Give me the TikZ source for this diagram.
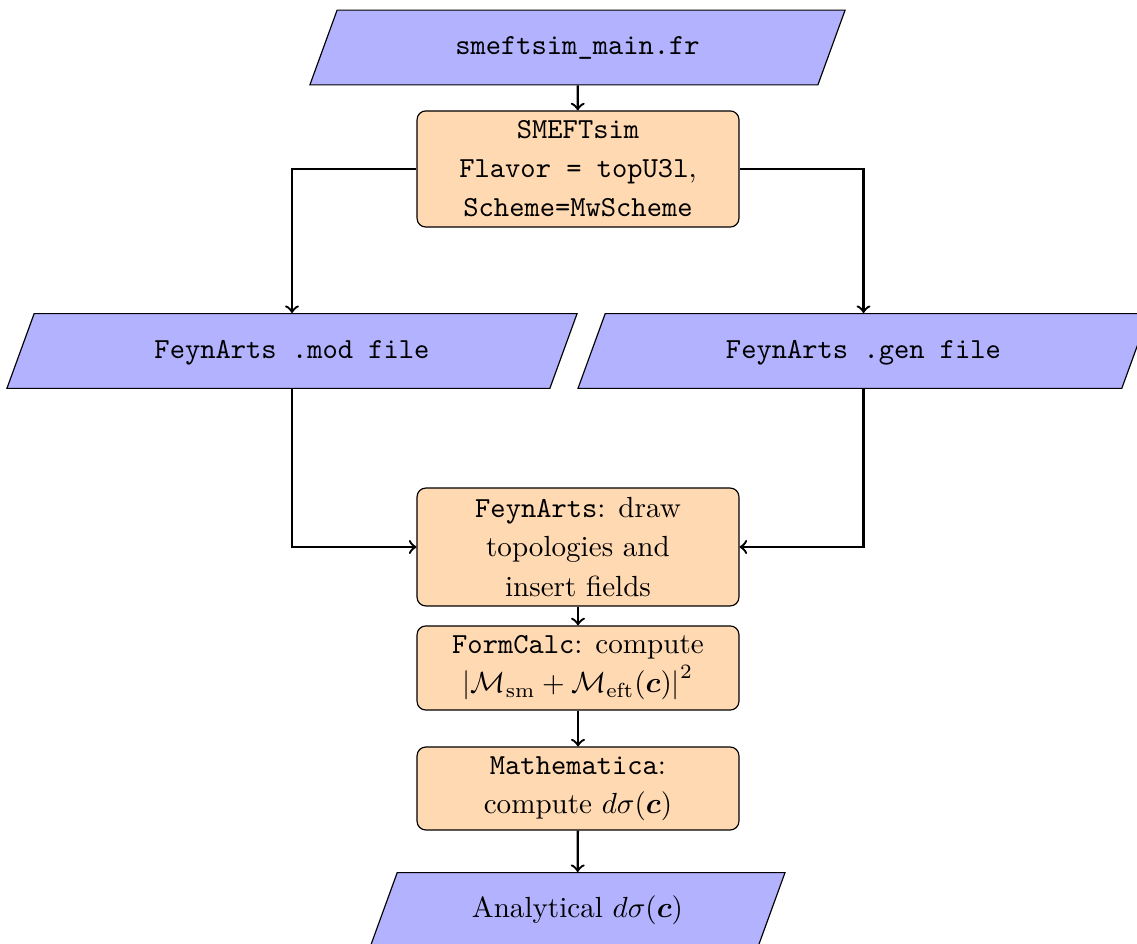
\documentclass[tikz,border=0pt]{standalone}
\usepackage{amsmath}
\usepackage{amssymb}
\usepackage{tikz}
\usetikzlibrary{shapes.geometric}

\tikzset{
  iofile/.style={trapezium, trapezium left angle=70, trapezium right angle=110,
    trapezium stretches body=true, draw, fill=blue!30,
    text height=7.5pt, text depth=2.5pt, inner ysep=7.85pt, inner xsep=2pt},
  procbox/.style={rectangle, rounded corners=3pt, draw, fill=orange!30,
    minimum width=110.6pt, align=center, inner sep=2pt,
    font=\linespread{1.12}\selectfont},
  flow/.style={->, thick},
}

\begin{document}
\begin{tikzpicture}[x=0.3436pt, y=-0.3436pt]
    \useasboundingbox (0,0) rectangle (1137,944);

    % input model
    \node[iofile, minimum width=183.9pt] (mainfr) at (577.5,47.5) {\texttt{smeftsim\_main.fr}};
    \node[procbox, minimum height=39.9pt] (smeft) at (578,169)
        {\texttt{SMEFTsim}\\ \texttt{Flavor = topU3l},\\ \texttt{Scheme=MwScheme}};

    % generated files
    \node[iofile, minimum width=195.9pt] (modfile) at (292,351) {\texttt{FeynArts .mod file}};
    \node[iofile, minimum width=196.2pt] (genfile) at (863.5,351) {\texttt{FeynArts .gen file}};

    % calculation chain
    \node[procbox, minimum height=40.5pt] (feynarts) at (578,547)
        {\texttt{FeynArts}: draw\\ topologies and\\ insert fields};
    \node[procbox, minimum height=28.9pt] (formcalc) at (578,668)
        {\texttt{FormCalc}: compute\\ $\left|\mathcal{M}_{\mathrm{sm}} + \mathcal{M}_{\mathrm{eft}}(\boldsymbol{c})\right|^2$};
    \node[procbox, minimum height=28.5pt] (mathem) at (578,788.5)
        {\texttt{Mathematica}:\\ compute $d\sigma(\boldsymbol{c})$};

    % output
    \node[iofile, minimum width=142.6pt] (result) at (577.5,910) {Analytical $d\sigma(\boldsymbol{c})$};

    % connectors
    \draw[flow] (mainfr) -- (smeft);
    \draw[flow] (smeft.west) -| (modfile.north);
    \draw[flow] (smeft.east) -| (genfile.north);
    \draw[flow] (modfile.south) |- (feynarts.west);
    \draw[flow] (genfile.south) |- (feynarts.east);
    \draw[flow] (feynarts) -- (formcalc);
    \draw[flow] (formcalc) -- (mathem);
    \draw[flow] (mathem) -- (result);
\end{tikzpicture}
\end{document}
